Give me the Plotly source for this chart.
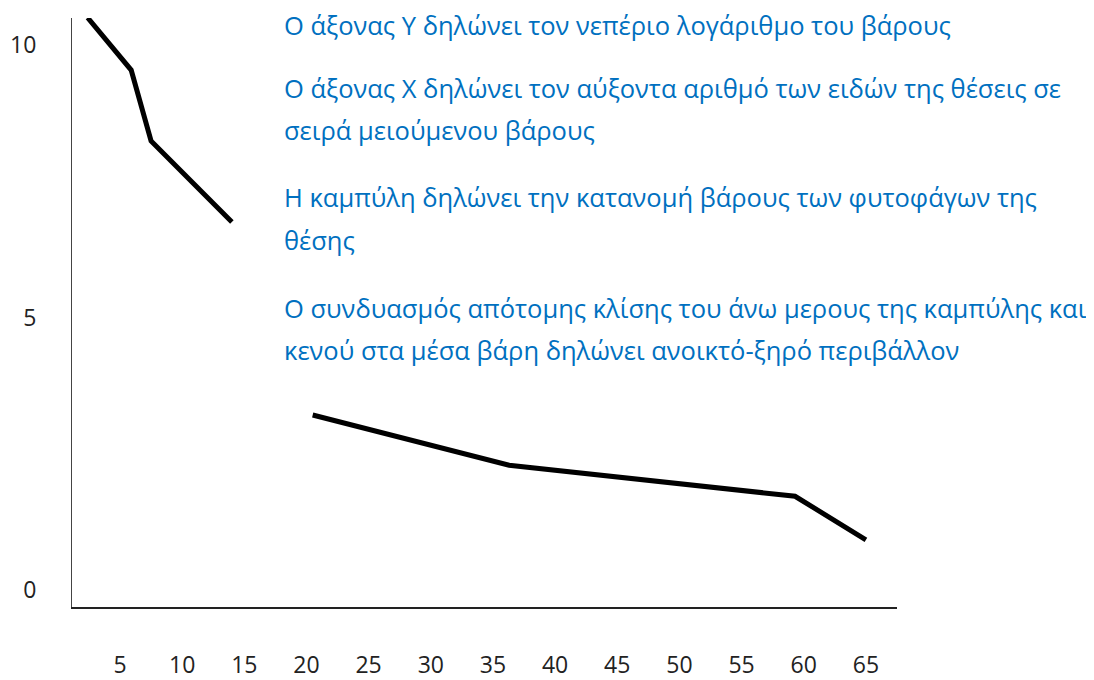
import plotly.graph_objects as go

# Data (rank of species vs. ln(weight)); None marks the gap in middle weights
rank = [2.4, 5.9, 7.5, 14.0, None, 20.5, 36.3, 59.3, 65.0]
ln_weight = [10.5, 9.54, 8.24, 6.75, None, 3.21, 2.29, 1.72, 0.92]

x_ticks = [5, 10, 15, 20, 25, 30, 35, 40, 45, 50, 55, 60, 65]
y_ticks = [0, 5, 10]

notes = [
    "Ο άξονας Υ δηλώνει τον νεπέριο λογάριθμο του βάρους",
    "Ο άξονας Χ δηλώνει τον αύξοντα αριθμό των ειδών της θέσεις σε",
    "σειρά μειούμενου βάρους",
    "Η καμπύλη δηλώνει την κατανομή βάρους των φυτοφάγων της",
    "θέσης",
    "Ο συνδυασμός απότομης κλίσης του άνω μερους της καμπύλης και",
    "κενού στα μέσα βάρη δηλώνει ανοικτό-ξηρό περιβάλλον",
]
note_px_y = [17, 80, 122, 189, 232, 300, 342]

W, H = 1094, 680
L, R, T, B = 64, 205, 10, 81
plot_h = H - T - B
plot_w = W - L - R

fig = go.Figure()
fig.add_trace(go.Scatter(
    x=rank, y=ln_weight, mode="lines",
    line=dict(color="black", width=5),
    connectgaps=False, showlegend=False, hoverinfo="skip",
))

for txt, py in zip(notes, note_px_y):
    fig.add_annotation(
        text=txt, xref="paper", yref="paper",
        x=(275 - L) / plot_w, y=(H - B - py) / plot_h,
        xanchor="left", yanchor="middle", showarrow=False, borderpad=0,
        font=dict(family="Open Sans", size=25.5, color="#0070C0"),
    )

fig.update_layout(
    width=W, height=H,
    margin=dict(l=L, r=R, t=T, b=B, pad=0, autoexpand=False),
    paper_bgcolor="white", plot_bgcolor="white",
    font=dict(family="Open Sans", size=23, color="#222222"),
    xaxis=dict(
        range=[1.14, 67.5], tickvals=x_ticks, ticks="",
        showgrid=False, zeroline=False, showline=True, automargin=False,
        linecolor="#222222", linewidth=2, ticklabelstandoff=36,
    ),
    yaxis=dict(
        range=[-0.312, 10.495], tickvals=y_ticks, ticks="",
        showgrid=False, zeroline=False, showline=True, automargin=False,
        linecolor="#444444", linewidth=1, ticklabelstandoff=30,
    ),
)

fig.write_html("out.html")
